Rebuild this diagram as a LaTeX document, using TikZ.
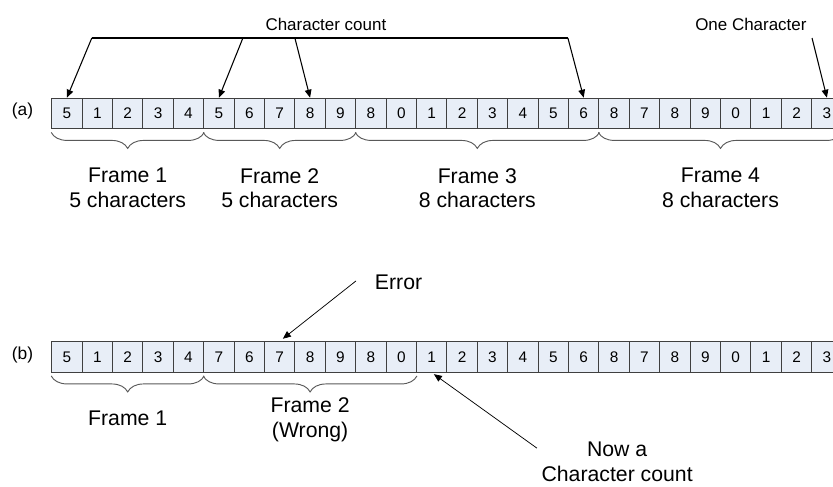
\documentclass[tikz,border=0pt]{standalone}
\usepackage{fontspec}
\setmainfont{Liberation Sans}
\usetikzlibrary{arrows.meta,decorations.pathreplacing}

\definecolor{cellfill}{HTML}{E8EEF7}
\tikzset{
  cell/.style={draw=black!75, fill=cellfill, line width=0.7pt, minimum width=0.8cm, minimum height=0.8cm, inner sep=0pt, font=\fontsize{11.5}{13}\selectfont},
  rowlabel/.style={font=\fontsize{13}{15}\selectfont},
  smalllabel/.style={font=\fontsize{12.7}{15}\selectfont},
  biglabel/.style={align=center, font=\fontsize{15.9}{18.7}\selectfont},
  ptr/.style={-{Triangle[length=6pt,width=5pt]}, line width=0.8pt},
  thinptr/.style={-{Triangle[length=6pt,width=5pt]}, line width=0.55pt},
  framebrace/.style={decorate, decoration={brace, amplitude=12pt, raise=2.5pt}, draw=black!65, line width=0.7pt}
}

\begin{document}
\begin{tikzpicture}[x=0.8cm,y=0.8cm]
\useasboundingbox (0,0) rectangle (27.40,-15.99);

%row (a)
\node[rowlabel] (la) at (0.74,-3.66) {(a)};
\foreach \d [count=\i] in {5,1,2,3,4,5,6,7,8,9,8,0,1,2,3,4,5,6,8,7,8,9,0,1,2,3}
  \node[cell] (a\i) at (\i+1.2,-3.73) {\d};

%character count pointers
\node[smalllabel] (count) at (10.72,-0.80) {Character count};
\coordinate (c1) at (3.02,-1.25);
\coordinate (c6) at (7.99,-1.25);
\coordinate (c9) at (9.70,-1.25);
\coordinate (c18) at (18.68,-1.25);
\draw[line width=0.8pt] (c1) -- (c18);
\draw[ptr] (c1) -- (a1.north);
\draw[ptr] (c6) -- (a6.north);
\draw[ptr] (c9) -- (a9.north);
\draw[ptr] (c18) -- (a18.north);

%one character
\node[smalllabel] (one) at (24.70,-0.80) {One Character};
\coordinate (c26) at (26.71,-1.25);
\draw[ptr] (c26) -- (a26.north);

%frames of (a)
\draw[framebrace] (a5.south east) -- (a1.south west);
\draw[framebrace] (a10.south east) -- (a6.south west);
\draw[framebrace] (a18.south east) -- (a11.south west);
\draw[framebrace] (a26.south east) -- (a19.south west);
\node[biglabel] (fa1) at (4.2,-6.19) {Frame 1\\5 characters};
\node[biglabel] (fa2) at (9.2,-6.19) {Frame 2\\5 characters};
\node[biglabel] (fa3) at (15.7,-6.19) {Frame 3\\8 characters};
\node[biglabel] (fa4) at (23.7,-6.19) {Frame 4\\8 characters};

%row (b)
\node[rowlabel] (lb) at (0.74,-11.67) {(b)};
\foreach \d [count=\i] in {5,1,2,3,4,7,6,7,8,9,8,0,1,2,3,4,5,6,8,7,8,9,0,1,2,3}
  \node[cell] (b\i) at (\i+1.2,-11.74) {\d};

%error
\node[biglabel] (err) at (13.11,-9.27) {Error};
\coordinate (et) at (11.71,-9.24);
\draw[thinptr, shorten >=3pt] (et) -- (b8.north);

%frames of (b)
\draw[framebrace] (b5.south east) -- (b1.south west);
\draw[framebrace] (b12.south east) -- (b6.south west);
\node[biglabel] (fb1) at (4.2,-13.76) {Frame 1};
\node[biglabel] (fb2) at (10.2,-13.80) {Frame 2\\(Wrong)};

%new count
\node[biglabel] (now) at (20.30,-15.19) {Now a\\Character count};
\coordinate (nt) at (17.66,-14.74);
\draw[thinptr, shorten >=2pt] (nt) -- (b13.south);

\end{tikzpicture}
\end{document}
